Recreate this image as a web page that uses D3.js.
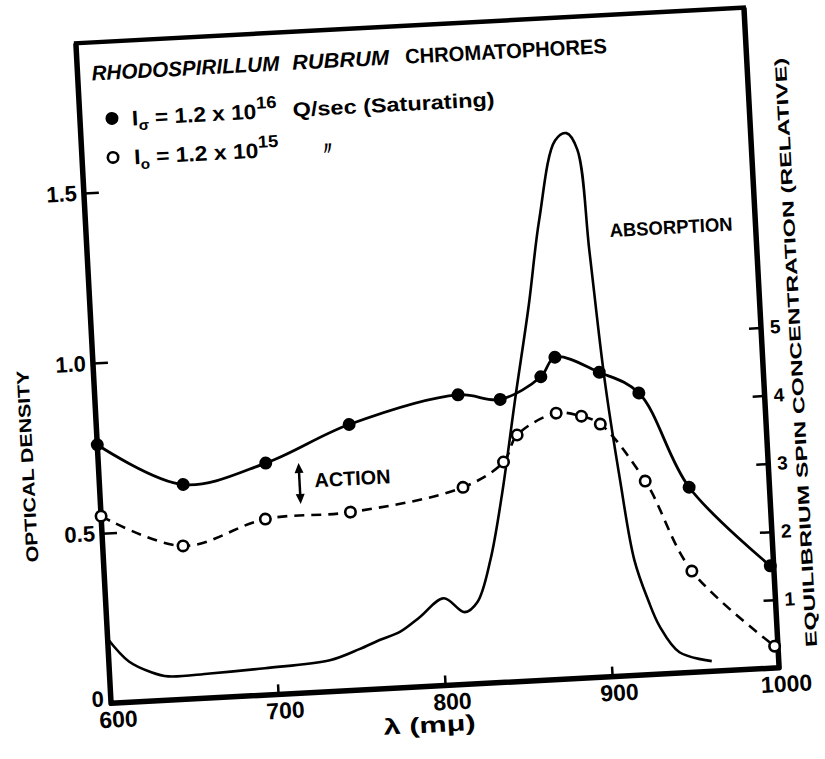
<!DOCTYPE html>
<html>
<head>
<meta charset="utf-8">
<script src="https://cdn.jsdelivr.net/npm/d3@7"></script>
<style>
  body { margin: 0; background: #fff; }
  text { font-family: "Liberation Sans", Arial, sans-serif; font-weight: bold; fill: #000; }
</style>
</head>
<body>
<svg id="chart" width="825" height="759"></svg>
<script>
// valori (lambda in m\u03bc, densita' ottica)
const satWave = [600, 650, 700, 751, 817, 842, 867, 876, 902, 925, 952, 998];
const satOD = [0.76, 0.63, 0.68, 0.78, 0.85, 0.83, 0.89, 0.945, 0.894, 0.827, 0.543, 0.30];

const weakWave = [600, 648, 698, 749, 817, 842, 851, 875, 890, 901, 926, 951, 998];
const weakOD = [0.55, 0.45, 0.516, 0.523, 0.578, 0.646, 0.723, 0.781, 0.768, 0.742, 0.568, 0.297, 0.064];

const absWave = [600, 612, 625, 635, 660, 693, 732, 750, 762, 775, 787, 802, 814, 822, 831, 840, 851, 862, 871, 883, 890, 896, 900, 905, 911, 917, 924, 930, 941, 960];
const absOD = [0.19, 0.12, 0.085, 0.07, 0.072, 0.079, 0.092, 0.12, 0.143, 0.165, 0.204, 0.256, 0.212, 0.24, 0.36, 0.55, 0.83, 1.1, 1.35, 1.58, 1.60, 1.55, 1.25, 0.87, 0.575, 0.338, 0.218, 0.14, 0.061, 0.03];

const xTicks = [600, 700, 800, 900, 1000];
const odTicks = [0, 0.5, 1.0, 1.5];
const odLabels = ["0", "0.5", "1.0", "1.5"];
const spinTicks = [1, 2, 3, 4, 5];

// area del grafico (prima della rotazione)
const mLeft = 93, mRight = 762, mTop = 25, mBottom = 686;
const cx = (mLeft + mRight) / 2, cy = (mTop + mBottom) / 2;

const svg = d3.select("#chart");
// la scansione originale e' leggermente ruotata
const g = svg.append("g").attr("transform", `rotate(-3.05, ${cx}, ${cy})`);

const x = d3.scaleLinear().domain([600, 1000]).range([mLeft, mRight]);
const y = d3.scaleLinear().domain([0, 1.94]).range([mBottom, mTop]);
const ySpin = d3.scaleLinear().domain([0, 5]).range([mBottom, y(1.0)]);

// cornice
g.append("path")
  .attr("d", `M${mLeft},${mTop} L${mLeft},${mBottom} L${mRight},${mBottom} L${mRight},${mTop}`)
  .attr("fill", "none").attr("stroke", "#000").attr("stroke-width", 5.5).attr("stroke-linejoin", "round");
g.append("line").attr("x1", mLeft - 2).attr("x2", mRight + 2).attr("y1", mTop).attr("y2", mTop)
  .attr("stroke", "#000").attr("stroke-width", 4.5);

// assi
const axisL = g.append("g").attr("transform", `translate(${mLeft},0)`)
  .call(d3.axisLeft(y).tickValues(odTicks).tickSizeInner(-15).tickSizeOuter(0).tickPadding(7)
    .tickFormat((d, i) => odLabels[i]));
const axisB = g.append("g").attr("transform", `translate(0,${mBottom})`)
  .call(d3.axisBottom(x).tickValues(xTicks).tickSizeInner(-10).tickSizeOuter(0).tickPadding(8)
    .tickFormat(d3.format("d")));
const axisR = g.append("g").attr("transform", `translate(${mRight},0)`)
  .call(d3.axisRight(ySpin).tickValues(spinTicks).tickSizeInner(-12).tickSizeOuter(0).tickPadding(9)
    .tickFormat(d3.format("d")));

g.selectAll(".domain").remove();
g.selectAll(".tick line").attr("stroke", "#000").attr("stroke-width", 2.5);
axisL.selectAll(".tick text").style("font-size", "22px").attr("fill", "#000");
axisL.selectAll(".tick").filter(d => d === 0).select("line").remove();
axisL.selectAll(".tick").filter(d => d === 0).select("text").attr("dy", "0.1em");
axisB.selectAll(".tick text").style("font-size", "23px").attr("dx", 6).attr("fill", "#000");
axisB.selectAll(".tick").filter(d => d === 600 || d === 1000).select("line").remove();
axisR.selectAll(".tick text").style("font-size", "19px").attr("fill", "#000");

// curve
const line = d3.line().x(d => x(d[0])).y(d => y(d[1])).curve(d3.curveCatmullRom.alpha(0.5));
const sat = d3.zip(satWave, satOD);
const weak = d3.zip(weakWave, weakOD);
const abs = d3.zip(absWave, absOD);

g.append("path").datum(abs).attr("d", line)
  .attr("fill", "none").attr("stroke", "#000").attr("stroke-width", 2.6);
g.append("path").datum(sat).attr("d", line)
  .attr("fill", "none").attr("stroke", "#000").attr("stroke-width", 2.8);
g.append("path").datum(weak).attr("d", line)
  .attr("fill", "none").attr("stroke", "#000").attr("stroke-width", 2.6).attr("stroke-dasharray", "10,7");

g.selectAll(".sat").data(sat).enter().append("circle").attr("class", "sat")
  .attr("cx", d => x(d[0])).attr("cy", d => y(d[1])).attr("r", 6.5).attr("fill", "#000");
g.selectAll(".weak").data(weak).enter().append("circle").attr("class", "weak")
  .attr("cx", d => x(d[0])).attr("cy", d => y(d[1])).attr("r", 5.2)
  .attr("fill", "#fff").attr("stroke", "#000").attr("stroke-width", 2.6);

// titolo
g.append("text").attr("x", 107).attr("y", 63).style("font-size", "21px").style("font-style", "italic")
  .attr("textLength", 188).attr("lengthAdjust", "spacingAndGlyphs").text("RHODOSPIRILLUM");
g.append("text").attr("x", 308).attr("y", 63).style("font-size", "21px").style("font-style", "italic")
  .attr("textLength", 97).attr("lengthAdjust", "spacingAndGlyphs").text("RUBRUM");
g.append("text").attr("x", 421).attr("y", 63).style("font-size", "21px")
  .attr("textLength", 202).attr("lengthAdjust", "spacingAndGlyphs").text("CHROMATOPHORES");

// legenda
g.append("circle").attr("cx", 125).attr("cy", 102).attr("r", 6.5).attr("fill", "#000");
const l1 = g.append("text").attr("x", 145).attr("y", 110).style("font-size", "21px")
  .attr("textLength", 145).attr("lengthAdjust", "spacingAndGlyphs");
l1.append("tspan").text("I");
l1.append("tspan").attr("dy", 5).style("font-size", "14px").text("\u03c3");
l1.append("tspan").attr("dy", -5).text(" = 1.2 x 10");
l1.append("tspan").attr("dy", -10).style("font-size", "17px").text("16");
g.append("text").attr("x", 306).attr("y", 110).style("font-size", "20px")
  .attr("textLength", 202).attr("lengthAdjust", "spacingAndGlyphs").text("Q/sec (Saturating)");

g.append("circle").attr("cx", 124).attr("cy", 141).attr("r", 5.2)
  .attr("fill", "#fff").attr("stroke", "#000").attr("stroke-width", 2.6);
const l2 = g.append("text").attr("x", 145).attr("y", 149).style("font-size", "21px")
  .attr("textLength", 145).attr("lengthAdjust", "spacingAndGlyphs");
l2.append("tspan").text("I");
l2.append("tspan").attr("dy", 5).style("font-size", "14px").text("o");
l2.append("tspan").attr("dy", -5).text(" = 1.2 x 10");
l2.append("tspan").attr("dy", -10).style("font-size", "17px").text("15");
g.append("text").attr("x", 339).attr("y", 150).attr("text-anchor", "middle").style("font-size", "18px").text("\u3003");

// etichette interne
g.append("text").attr("x", 616).attr("y", 247).style("font-size", "19px")
  .attr("textLength", 123).attr("lengthAdjust", "spacingAndGlyphs").text("ABSORPTION");
g.append("text").attr("x", 308).attr("y", 481).style("font-size", "20px")
  .attr("textLength", 76).attr("lengthAdjust", "spacingAndGlyphs").text("ACTION");

// freccia doppia "action"
const ax = 293, ay0 = 456, ay1 = 497;
g.append("line").attr("x1", ax).attr("x2", ax).attr("y1", ay0 + 6).attr("y2", ay1 - 6)
  .attr("stroke", "#000").attr("stroke-width", 2.5);
g.append("path").attr("d", `M${ax},${ay0} l-4.5,10 l9,0 Z M${ax},${ay1} l-4.5,-10 l9,0 Z`).attr("fill", "#000");

// titoli degli assi
g.append("text").attr("transform", "translate(28,445) rotate(-90)").attr("text-anchor", "middle")
  .style("font-size", "17px").attr("textLength", 192).attr("lengthAdjust", "spacingAndGlyphs")
  .text("OPTICAL  DENSITY");
g.append("text").attr("transform", "translate(801,372) rotate(-90)").attr("text-anchor", "middle")
  .style("font-size", "16px").attr("textLength", 590).attr("lengthAdjust", "spacingAndGlyphs")
  .text("EQUILIBRIUM  SPIN  CONCENTRATION  (RELATIVE)");
g.append("text").attr("x", 410).attr("y", 732).attr("text-anchor", "middle").style("font-size", "22px")
  .attr("textLength", 92).attr("lengthAdjust", "spacingAndGlyphs")
  .text("\u03bb (m\u03bc)");
</script>
</body>
</html>
